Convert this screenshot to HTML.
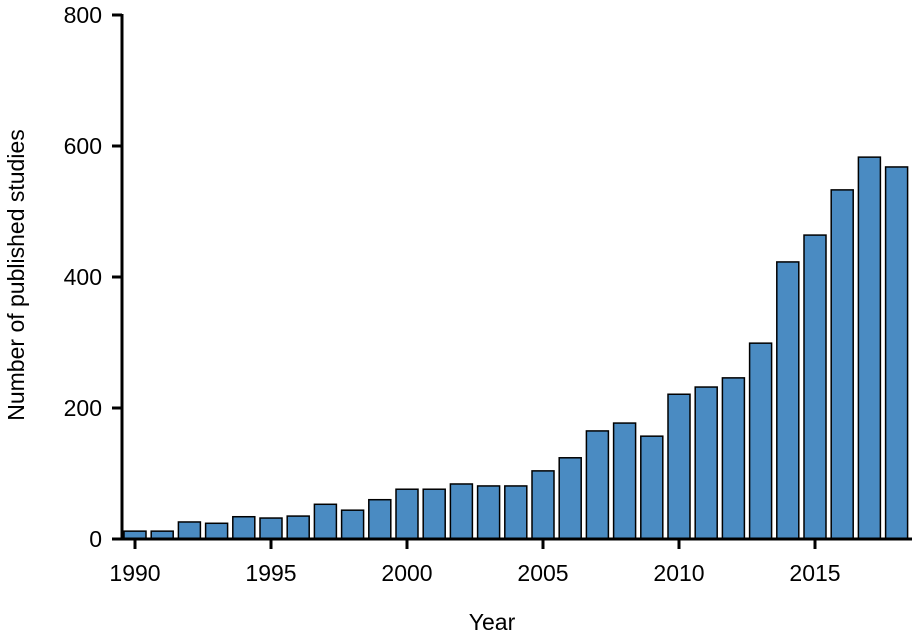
<!DOCTYPE html>
<html><head><meta charset="utf-8"><style>
html,body{margin:0;padding:0;background:#fff;}
svg{display:block;font-family:"Liberation Sans",Arial,sans-serif;}
</style></head><body>
<svg id="chart" width="920" height="632">
<g id="bars"></g>
<g id="axes"></g>
</svg>
<script>
const years = [1990,1991,1992,1993,1994,1995,1996,1997,1998,1999,2000,2001,2002,2003,2004,2005,2006,2007,2008,2009,2010,2011,2012,2013,2014,2015,2016,2017,2018];
const counts = [12,12,26,24,34,32,35,53,44,60,76,76,84,81,81,104,124,165,177,157,221,232,246,299,423,464,533,583,568];
const yTicks = [0,200,400,600,800];
const xTicks = [1990,1995,2000,2005,2010,2015];

const NS = "http://www.w3.org/2000/svg";
const y0 = 539, yTop = 15, yMax = 800;
const yScale = v => y0 - v * (y0 - yTop) / yMax;
const xScale = yr => 135 + (yr - 1990) * 27.2;
const barW = 22;
const bars = document.getElementById('bars');
const axes = document.getElementById('axes');
function mk(tag, attrs, parent){const e=document.createElementNS(NS,tag);for(const k in attrs)e.setAttribute(k,attrs[k]);parent.appendChild(e);return e;}

years.forEach((yr,i)=>{
  const r = mk('rect',{x:xScale(yr)-barW/2,y:yScale(counts[i]),width:barW,height:y0-yScale(counts[i]),fill:'#4a8bc2',stroke:'#000','stroke-width':1.5},bars);
  
  
});

const ya = mk('line',{x1:122,y1:yTop-1,x2:122,y2:y0+1,stroke:'#000','stroke-width':3},axes);


const xa = mk('line',{x1:120.5,y1:y0,x2:912,y2:y0,stroke:'#000','stroke-width':3},axes);



yTicks.forEach(v=>{
  const t = mk('line',{x1:112,y1:yScale(v),x2:122,y2:yScale(v),stroke:'#000','stroke-width':3},axes);
  
  
  const l = mk('text',{x:102,y:yScale(v)+8,'text-anchor':'end','font-size':23,fill:'#000'},axes);
  l.textContent = v;
  
  
});
xTicks.forEach(v=>{
  const t = mk('line',{x1:xScale(v),y1:y0,x2:xScale(v),y2:y0+10,stroke:'#000','stroke-width':3},axes);
  
  
  const l = mk('text',{x:xScale(v),y:y0+42,'text-anchor':'middle','font-size':23,fill:'#000'},axes);
  l.textContent = v;
  
  
});
const xt = mk('text',{x:492,y:630,'text-anchor':'middle','font-size':23,fill:'#000'},axes);
xt.textContent='Year';


const yt = mk('text',{x:0,y:0,'text-anchor':'middle','font-size':23,fill:'#000',transform:'translate(24,275) rotate(-90)'},axes);
yt.textContent='Number of published studies';


</script>
</body></html>
